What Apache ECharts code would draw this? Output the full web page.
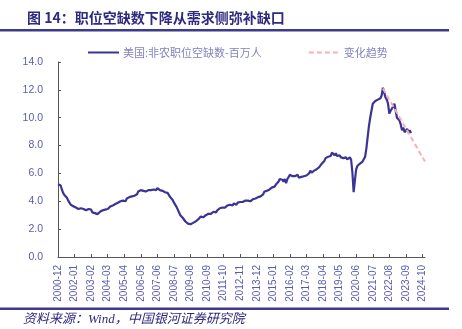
<!DOCTYPE html>
<html>
<head>
<meta charset="utf-8">
<title>职位空缺数</title>
<script src="https://cdn.jsdelivr.net/npm/echarts@6/dist/echarts.min.js"></script>
<style>
  html, body { margin: 0; padding: 0; background: #ffffff; }
  #chart { width: 462px; height: 329px; }
</style>
</head>
<body>
<div id="chart"></div>
<script>
// Monthly span of the time axis
const firstMonth = [2000, 12];
const lastMonth = [2024, 12];

// US nonfarm job openings, millions, one row per calendar year
const openings2000s = [
  [5.22],                                                              // 2000-12
  [5.10, 5.15, 4.85, 4.60, 4.45, 4.40, 4.25, 4.05, 3.90, 3.75, 3.70, 3.65], // 2001
  [3.60, 3.55, 3.50, 3.45, 3.45, 3.50, 3.40, 3.45, 3.50, 3.35, 3.40, 3.45], // 2002
  [3.35, 3.40, 3.20, 3.30, 3.15, 3.20, 3.08, 3.20, 3.25, 3.30, 3.35, 3.40], // 2003
  [3.40, 3.50, 3.45, 3.55, 3.62, 3.50, 3.70, 3.65, 3.80, 3.72, 3.90, 3.85], // 2004
  [4.00, 3.90, 4.05, 4.10, 4.00, 4.20, 4.15, 4.30, 4.22, 4.35, 4.30, 4.40], // 2005
  [4.45, 4.50, 4.70, 4.62, 4.80, 4.70, 4.75, 4.82, 4.70, 4.75, 4.80, 4.75], // 2006
  [4.80, 4.75, 4.85, 4.92, 4.80, 4.95, 4.85, 4.80, 4.90, 4.75, 4.70, 4.65], // 2007
  [4.70, 4.60, 4.50, 4.30, 4.20, 4.10, 3.90, 3.80, 3.60, 3.40, 3.20, 3.00], // 2008
  [2.90, 2.80, 2.70, 2.55, 2.50, 2.40, 2.28, 2.35, 2.40, 2.45, 2.52, 2.55]  // 2009
];
const openings2010s = [
  [2.60, 2.70, 2.75, 2.90, 3.00, 2.85, 2.95, 3.00, 3.05, 3.10, 3.15, 3.10], // 2010
  [3.20, 3.25, 3.30, 3.20, 3.35, 3.40, 3.50, 3.45, 3.55, 3.60, 3.55, 3.62], // 2011
  [3.70, 3.65, 3.75, 3.80, 3.70, 3.85, 3.80, 3.75, 3.90, 3.85, 3.95, 3.90], // 2012
  [3.95, 4.00, 4.05, 3.95, 4.05, 4.10, 4.00, 4.10, 4.15, 4.20, 4.20, 4.30], // 2013
  [4.30, 4.25, 4.35, 4.40, 4.50, 4.70, 4.60, 4.75, 4.80, 4.85, 4.90, 5.00], // 2014
  [5.10, 5.05, 5.20, 5.30, 5.40, 5.60, 5.50, 5.55, 5.40, 5.60, 5.30, 5.60], // 2015
  [5.70, 5.90, 6.00, 5.80, 5.70, 5.80, 5.75, 5.90, 5.70, 5.65, 5.75, 5.70], // 2016
  [5.80, 5.90, 5.85, 5.95, 6.00, 6.20, 6.05, 6.15, 6.20, 6.10, 6.30, 6.40], // 2017
  [6.45, 6.50, 6.70, 6.80, 6.90, 7.10, 7.05, 7.20, 7.30, 7.25, 7.50, 7.40], // 2018
  [7.30, 7.45, 7.25, 7.20, 7.30, 7.15, 7.20, 7.10, 7.05, 7.15, 7.00, 6.95]  // 2019
];
const openings2020s = [
  [7.15, 7.00, 6.10, 4.65, 5.50, 6.30, 6.55, 6.50, 6.70, 6.80, 6.85, 6.80], // 2020
  [7.20, 7.80, 8.60, 9.40, 10.0, 10.5, 11.0, 10.9, 11.2, 11.1, 11.3, 11.4], // 2021
  [11.4, 11.6, 12.15, 11.8, 11.45, 11.3, 11.0, 10.3, 10.5, 10.4, 10.8, 11.0], // 2022
  [10.5, 10.0, 9.90, 9.80, 9.50, 9.10, 9.30, 8.95, 9.00, 9.20, 8.90, 9.10], // 2023
  [8.90]                                                               // 2024-01
];

// Straight trend line drawn from the peak onward
const trendStart = ['2022-03', 12.1];
const trendEnd = ['2024-12', 6.85];

const yTicks = { min: 0, max: 14, step: 2 };

const seriesName = '美国:非农职位空缺数-百万人';
const trendName = '变化趋势';
const titleText = '图 14：职位空缺数下降从需求侧弥补缺口';
const sourceText = '资料来源：Wind，中国银河证券研究院';

// Month labels like 2000-12
const months = [];
for (let y = firstMonth[0], m = firstMonth[1]; y < lastMonth[0] || (y === lastMonth[0] && m <= lastMonth[1]); ) {
  months.push(y + '-' + String(m).padStart(2, '0'));
  m++;
  if (m > 12) { m = 1; y++; }
}

const openings = [].concat(...openings2000s, ...openings2010s, ...openings2020s);

const labelColor = '#5b5cb0';
const navy = '#2e2a7e';

const chart = echarts.init(document.getElementById('chart'), null, { renderer: 'canvas' });
chart.setOption({
  animation: false,
  backgroundColor: '#ffffff',
  textStyle: { fontFamily: 'Liberation Sans, Arial, sans-serif' },
  title: {
    text: titleText,
    left: 22,
    top: 6,
    textStyle: {
      fontFamily: 'Noto Sans CJK SC, sans-serif',
      fontSize: 14,
      fontWeight: 'bold',
      color: navy
    }
  },
  legend: {
    top: 42,
    left: 82,
    itemWidth: 31,
    itemHeight: 10,
    itemGap: 46,
    itemStyle: { opacity: 0 },
    textStyle: {
      fontFamily: 'Noto Sans CJK SC, sans-serif',
      fontSize: 11,
      color: '#8583bd',
      padding: [0, 0, 0, -1]
    },
    data: [seriesName, trendName]
  },
  grid: { left: 58, right: 37, top: 62, bottom: 72, containLabel: false },
  xAxis: {
    type: 'category',
    data: months,
    boundaryGap: false,
    axisLine: { lineStyle: { color: '#555555', width: 1 } },
    axisTick: { inside: true, length: 3, interval: 12, lineStyle: { color: '#555555' } },
    axisLabel: {
      interval: 12,
      rotate: 90,
      margin: 8,
      fontSize: 10,
      color: labelColor,
      fontFamily: 'Liberation Sans, Arial, sans-serif'
    },
    splitLine: { show: false }
  },
  yAxis: {
    type: 'value',
    min: yTicks.min,
    max: yTicks.max,
    interval: yTicks.step,
    axisLine: { show: true, lineStyle: { color: '#555555', width: 1 } },
    axisTick: { show: true, inside: true, length: 3, lineStyle: { color: '#555555' } },
    axisLabel: {
      margin: 15,
      fontSize: 10.5,
      color: labelColor,
      formatter: v => v.toFixed(1),
      fontFamily: 'Liberation Sans, Arial, sans-serif'
    },
    splitLine: { show: false }
  },
  series: [
    {
      name: seriesName,
      type: 'line',
      data: openings,
      symbol: 'none',
      lineStyle: { color: '#3b3497', width: 2.2 },
      itemStyle: { color: '#3b3497' },
      z: 2
    },
    {
      name: trendName,
      type: 'line',
      data: [trendStart, trendEnd],
      symbol: 'none',
      lineStyle: { color: '#f7b3b3', width: 2, type: [5, 3] },
      itemStyle: { color: '#f7b3b3' },
      z: 3
    }
  ],
  graphic: [
    { type: 'rect', shape: { x: 0, y: 29, width: 449, height: 2.5 }, style: { fill: '#3d3a8e' } },
    { type: 'rect', shape: { x: 0, y: 307.5, width: 449, height: 2.5 }, style: { fill: '#3d3a8e' } },
    {
      type: 'text',
      left: 23,
      top: 313,
      style: {
        text: sourceText,
        fill: navy,
        font: 'italic 13px "Liberation Serif", "Noto Sans CJK SC", serif'
      }
    }
  ]
});
</script>
</body>
</html>
